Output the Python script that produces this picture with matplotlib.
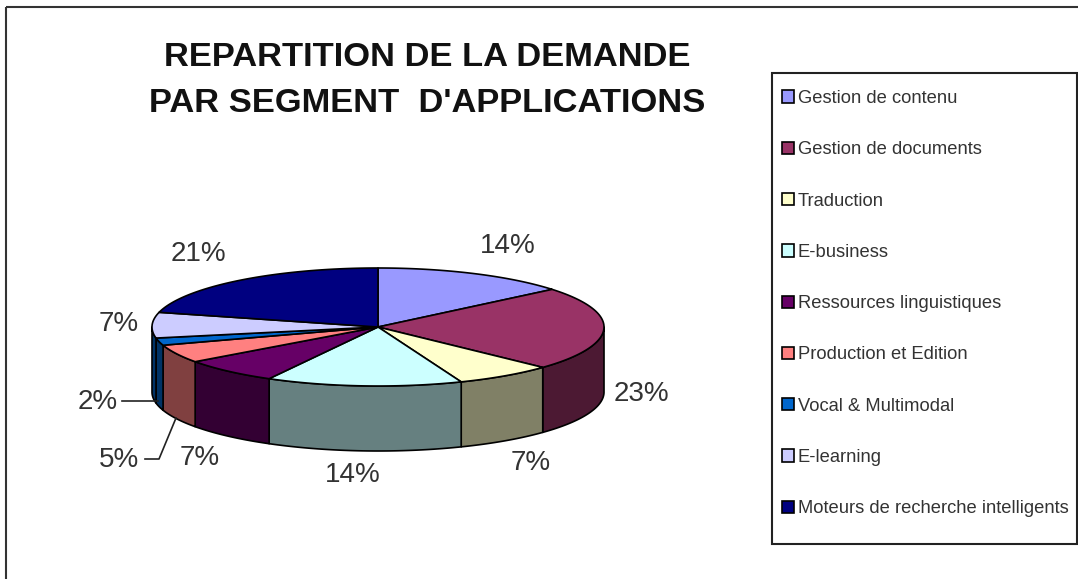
import numpy as np
import matplotlib
matplotlib.use("Agg")
import matplotlib.pyplot as plt
from matplotlib.patches import Polygon, Patch, Rectangle

plt.rcParams['font.family'] = ['Liberation Sans', 'DejaVu Sans']

categories = ["Gestion de contenu", "Gestion de documents", "Traduction", "E-business",
              "Ressources linguistiques", "Production et Edition", "Vocal & Multimodal",
              "E-learning", "Moteurs de recherche intelligents"]
values = [14, 23, 7, 14, 7, 5, 2, 7, 21]
top_colors = ["#9999FF", "#993366", "#FFFFCC", "#CCFFFF", "#660066",
              "#FF8080", "#0066CC", "#CCCCFF", "#000080"]
side_colors = ["#4C4C80", "#4C1933", "#808066", "#668080", "#330033",
               "#804040", "#003366", "#003366", "#000040"]
title_lines = ["REPARTITION DE LA DEMANDE", "PAR SEGMENT  D'APPLICATIONS"]
label_pos = [(508, 246), (641, 394), (531, 463), (353, 475), (200, 458),
             (119, 460), (98, 402), (119, 324), (198, 254)]

CX, CY, RX, RY, DEPTH = 378, 327, 226, 59, 65
TXT = "#333333"

fig = plt.figure(figsize=(10.78, 5.79), dpi=100)
ax = fig.add_axes([0, 0, 1, 1])
ax.set_xlim(0, 1078)
ax.set_ylim(579, 0)
ax.axis('off')

# outer chart frame (right and bottom edges fall off the canvas)
ax.add_patch(Rectangle((5.5, 6.5), 1100, 600, fill=False, ec="#333333", lw=1.5))


def rim(a0, a1):
    t = np.radians(np.linspace(a0, a1, max(2, int(abs(a1 - a0)) * 2 + 2)))
    return CX + RX * np.sin(t), CY - RY * np.cos(t)


edges = np.concatenate([[0], np.cumsum(values)]) * 360 / sum(values)

# side walls: only the front half of the disc (90..270 degrees) is visible
for i in range(len(values)):
    a0, a1 = max(edges[i], 90), min(edges[i + 1], 270)
    if a1 <= a0:
        continue
    x, y = rim(a0, a1)
    pts = np.r_[np.c_[x, y], np.c_[x[::-1], y[::-1] + DEPTH]]
    ax.add_patch(Polygon(pts, closed=True, fc=side_colors[i], ec="black", lw=1.2, joinstyle='round'))

# top faces
for i in range(len(values)):
    x, y = rim(edges[i], edges[i + 1])
    pts = np.r_[[[CX, CY]], np.c_[x, y]]
    ax.add_patch(Polygon(pts, closed=True, fc=top_colors[i], ec="black", lw=1.2, joinstyle='round'))

# percentage labels
for v, (lx, ly) in zip(values, label_pos):
    ax.text(lx, ly, f"{v}%", fontsize=20, color=TXT, ha='center', va='center')

# leader lines for the two small slices
ax.plot([122, 158], [401, 401], color="#222222", lw=1.2)
ax.plot([145, 159, 176], [459, 459, 418], color="#222222", lw=1.2)

# title
for line, ty in zip(title_lines, [58, 104]):
    ax.text(427, ty, line, fontsize=24.8, fontweight='bold', color="#111111", ha='center', va='center')

# legend
ax.add_patch(Rectangle((771.5, 72.5), 305, 471, fc="white", ec="#222222", lw=1.5, zorder=3))
handles = [Patch(fc=c, ec="black", lw=1.2) for c in top_colors]
leg = ax.legend(handles, categories, loc='upper left', bbox_to_anchor=(782 / 1078, 1 - 90 / 579),
                frameon=False, fontsize=13.2, handlelength=0.66, handleheight=0.66,
                handletextpad=0.2, labelspacing=1.87, borderpad=0, borderaxespad=0,
                labelcolor="#333333")
leg.set_zorder(4)

fig.savefig("out.png", dpi=100)
